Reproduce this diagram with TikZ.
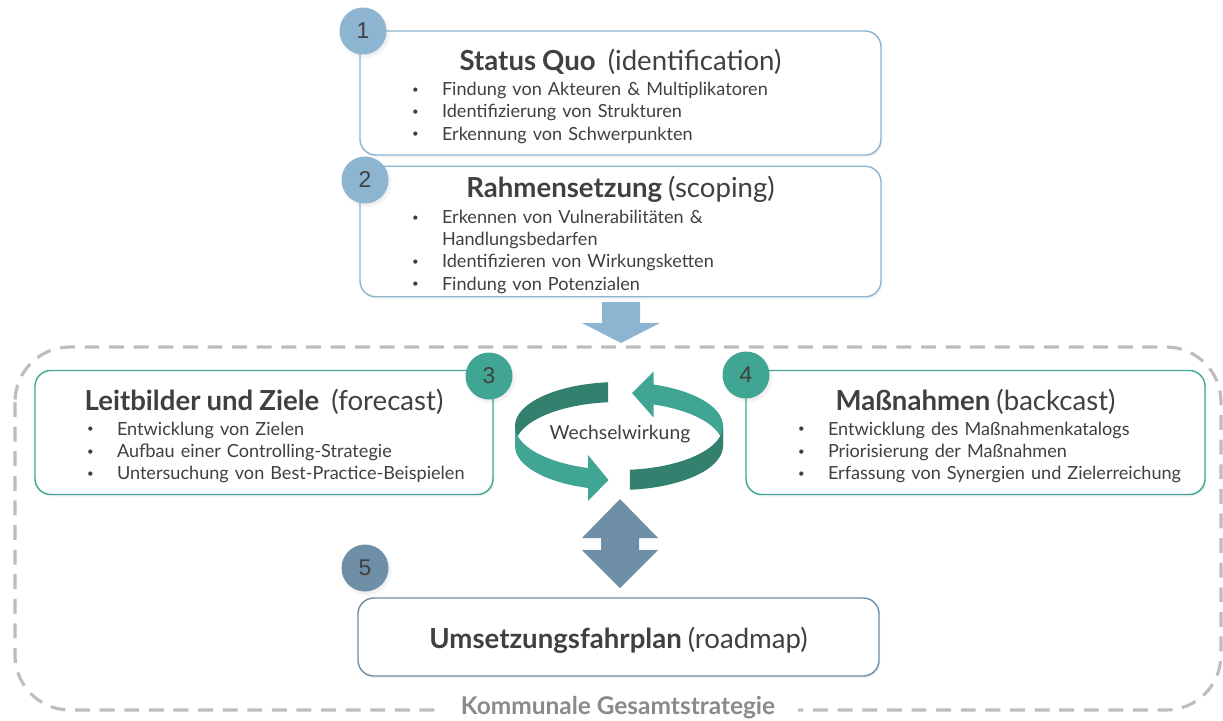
\documentclass[tikz,border=0pt]{standalone}
\usepackage{fontspec}
\setmainfont{Lato}
\newfontfamily\numfont{Liberation Sans}
\usepackage{xcolor}
\usepackage{tikz}
\usetikzlibrary{shapes,positioning,calc,shadows}
\definecolor{stepblue}{HTML}{8DB4D0}
\definecolor{stepteal}{HTML}{40A593}
\definecolor{stepdark}{HTML}{34806F}
\definecolor{stepslate}{HTML}{6F8FA7}
\definecolor{framegray}{HTML}{BDBDBD}
\definecolor{labelgray}{HTML}{8A8A8A}
\definecolor{txtgray}{HTML}{404040}

\newcommand{\stagetitle}[1]{{\centering\fontsize{15.7}{18.5}\selectfont\rule{0pt}{18pt}#1\par}\vspace{2pt}}
\newcommand{\stagelist}[1]{\hspace*{1.04cm}\begin{tabular}{@{}p{0.6cm}@{}l@{}}#1\end{tabular}}
\newcommand{\bul}{\raisebox{0.25ex}{\fontsize{6.5}{7}\selectfont\textbullet}}

\begin{document}
\begin{tikzpicture}[
  stagebox/.style={rectangle, rounded corners=9pt, draw=#1, line width=0.8pt, fill=white, text width=10.42cm, minimum height=2.48cm, inner sep=0pt, align=left, text=txtgray, font=\fontsize{10.3}{12.6}\selectfont, drop shadow={opacity=0.1, shadow xshift=0.8pt, shadow yshift=-1.2pt}},
  stepnum/.style={circle, fill=#1, minimum size=0.94cm, inner sep=0pt, text=txtgray, font=\numfont\fontsize{13}{13}\selectfont, circular drop shadow={opacity=0.12, shadow xshift=0.8pt, shadow yshift=-1.2pt}},
  stratframe/.style={draw=framegray, line width=1.8pt, dash pattern=on 8.5pt off 5.5pt, rounded corners=1.1cm}
]
\useasboundingbox (0,0) rectangle (24.46,-14.4);

% outer frame
\draw[stratframe] (0.3,-6.94) rectangle (24.42,-14.2);

% stages
\node[stagebox=stepblue] (quo) at (12.41,-1.86) {\stagetitle{\textbf{Status Quo}~~(identification)}%
\stagelist{\bul & Findung von Akteuren \& Multiplikatoren\\ \bul & Identifizierung von Strukturen\\ \bul & Erkennung von Schwerpunkten}};
\node[stagebox=stepblue, minimum height=2.46cm] (scope) at (12.41,-4.63) {\stagetitle{\textbf{Rahmensetzung} (scoping)}%
\stagelist{\bul & Erkennen von Vulnerabilitäten \&\\ & Handlungsbedarfen\\ \bul & Identifizieren von Wirkungsketten\\ \bul & Findung von Potenzialen}};
\node[stagebox=stepteal, text width=9.16cm] (vision) at (5.28,-8.65) {\stagetitle{\textbf{Leitbilder und Ziele}~~(forecast)}%
\stagelist{\bul & Entwicklung von Zielen\\ \bul & Aufbau einer Controlling-Strategie\\ \bul & Untersuchung von Best-Practice-Beispielen}};
\node[stagebox=stepteal, text width=9.18cm] (measures) at (19.51,-8.65) {\stagetitle{\textbf{Maßnahmen} (backcast)}%
\stagelist{\bul & Entwicklung des Maßnahmenkatalogs\\ \bul & Priorisierung der Maßnahmen\\ \bul & Erfassung von Synergien und Zielerreichung}};
\node[stagebox=stepslate, minimum height=1.56cm] (roadmap) at (12.37,-12.74) {\stagetitle{\textbf{Umsetzungsfahrplan} (roadmap)}};

% arrow 2 -> frame
\coordinate (down) at (12.42,-6.04);
\fill[stepblue] (down) ++(-0.38,0) -- ++(0.76,0) -- ++(0,-0.42) -- ++(0.4,0) -- ++(-0.78,-0.4) -- ++(-0.78,0.4) -- ++(0.4,0) -- cycle;

% cycle 3 <-> 4
\coordinate (cyc) at (12.38,-8.52);
\fill[stepdark] ($(cyc)+(96:2.08 and 0.88)$) arc[start angle=96, end angle=180, x radius=2.08, y radius=0.88] -- ++(0,-0.4) arc[start angle=180, end angle=96, x radius=2.08, y radius=0.88] -- cycle;
\fill[stepteal] ($(cyc)+(180:2.08 and 0.88)$) arc[start angle=180, end angle=253, x radius=2.08, y radius=0.88] -- ++(0,-0.4) arc[start angle=253, end angle=180, x radius=2.08, y radius=0.88] -- cycle;
\fill[stepteal] ($(cyc)+(-0.62,-0.58)$) -- ($(cyc)+(-0.21,-1.08)$) -- ($(cyc)+(-0.62,-1.50)$) -- cycle;
\fill[stepteal] ($(cyc)+(71:2.08 and 0.88)$) arc[start angle=71, end angle=0, x radius=2.08, y radius=0.88] -- ++(0,-0.4) arc[start angle=0, end angle=71, x radius=2.08, y radius=0.88] -- cycle;
\fill[stepdark] ($(cyc)+(0:2.08 and 0.88)$) arc[start angle=0, end angle=-84, x radius=2.08, y radius=0.88] -- ++(0,-0.4) arc[start angle=-84, end angle=0, x radius=2.08, y radius=0.88] -- cycle;
\fill[stepteal] ($(cyc)+(0.69,1.09)$) -- ($(cyc)+(0.26,0.66)$) -- ($(cyc)+(0.69,0.17)$) -- cycle;
\node[text=txtgray, font=\fontsize{11}{13}\selectfont] (wechsel) at (12.4,-8.68) {Wechselwirkung};

% arrow cycle <-> 5
\coordinate (dbl) at (12.4,-9.98);
\fill[stepslate] (dbl) -- ++(0.76,-0.78) -- ++(-0.38,0) -- ++(0,-0.24) -- ++(0.38,0) -- ++(-0.76,-0.76) -- ++(-0.76,0.76) -- ++(0.38,0) -- ++(0,0.24) -- ++(-0.38,0) -- cycle;

% numbers
\node[stepnum=stepblue] (n1) at (7.26,-0.62) {1};
\node[stepnum=stepblue] (n2) at (7.3,-3.6) {2};
\node[stepnum=stepteal] (n3) at (9.78,-7.52) {3};
\node[stepnum=stepteal] (n4) at (14.92,-7.5) {4};
\node[stepnum=stepslate] (n5) at (7.3,-11.36) {5};

\node[fill=white, inner xsep=0.45cm, inner ysep=2pt, text=labelgray, font=\bfseries\fontsize{13.9}{15}\selectfont] (strat) at (12.36,-14.16) {Kommunale Gesamtstrategie};
\end{tikzpicture}
\end{document}
